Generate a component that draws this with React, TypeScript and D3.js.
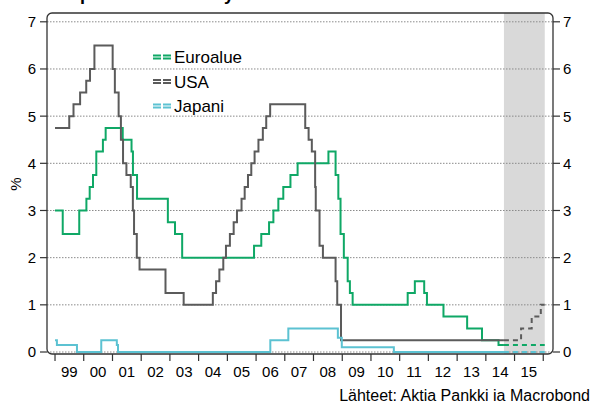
import React from 'react';
import * as d3 from 'd3';

// ECB, Fed and BoJ policy rates (change dates), %
const euroDates = ['1999-01-01', '1999-04-09', '1999-11-05', '2000-02-04', '2000-03-17', '2000-04-28', '2000-06-09', '2000-09-01', '2000-10-06', '2001-05-11', '2001-08-31', '2001-09-18', '2001-11-09', '2002-12-06', '2003-03-07', '2003-06-06', '2005-12-06', '2006-03-08', '2006-06-15', '2006-08-09', '2006-10-11', '2006-12-13', '2007-03-14', '2007-06-13', '2008-07-09', '2008-10-08', '2008-11-12', '2008-12-10', '2009-01-21', '2009-03-11', '2009-04-08', '2009-05-13', '2011-04-13', '2011-07-13', '2011-11-09', '2011-12-14', '2012-07-11', '2013-05-08', '2013-11-13', '2014-06-11', '2014-08-19'];
const euroValues = [3.0, 2.5, 3.0, 3.25, 3.5, 3.75, 4.25, 4.5, 4.75, 4.5, 4.25, 3.75, 3.25, 2.75, 2.5, 2.0, 2.25, 2.5, 2.75, 3.0, 3.25, 3.5, 3.75, 4.0, 4.25, 3.75, 3.25, 2.5, 2.0, 1.5, 1.25, 1.0, 1.25, 1.5, 1.25, 1.0, 0.75, 0.5, 0.25, 0.15, 0.15];

const usaDates = ['1999-01-01', '1999-07-01', '1999-08-24', '1999-11-16', '2000-02-02', '2000-03-21', '2000-05-16', '2001-01-03', '2001-01-31', '2001-03-20', '2001-04-18', '2001-05-15', '2001-06-27', '2001-08-21', '2001-09-17', '2001-10-02', '2001-11-06', '2001-12-11', '2002-11-06', '2003-06-25', '2004-06-30', '2004-08-10', '2004-09-21', '2004-11-10', '2004-12-14', '2005-02-02', '2005-03-22', '2005-05-03', '2005-06-30', '2005-08-09', '2005-09-20', '2005-11-01', '2005-12-13', '2006-01-31', '2006-03-28', '2006-05-10', '2006-06-29', '2007-09-18', '2007-10-31', '2007-12-11', '2008-01-22', '2008-01-30', '2008-03-18', '2008-04-30', '2008-10-08', '2008-10-29', '2008-12-16', '2014-08-19'];
const usaValues = [4.75, 5.0, 5.25, 5.5, 5.75, 6.0, 6.5, 6.0, 5.5, 5.0, 4.5, 4.0, 3.75, 3.5, 3.0, 2.5, 2.0, 1.75, 1.25, 1.0, 1.25, 1.5, 1.75, 2.0, 2.25, 2.5, 2.75, 3.0, 3.25, 3.5, 3.75, 4.0, 4.25, 4.5, 4.75, 5.0, 5.25, 4.75, 4.5, 4.25, 3.5, 3.0, 2.25, 2.0, 1.5, 1.0, 0.25, 0.25];

const japanDates = ['1999-01-01', '1999-01-25', '1999-10-07', '2000-08-11', '2001-02-25', '2001-03-12', '2006-07-01', '2007-02-15', '2008-11-06', '2008-12-26', '2010-10-19', '2014-08-19'];
const japanValues = [0.25, 0.15, 0.0, 0.25, 0.15, 0.0, 0.25, 0.5, 0.3, 0.1, 0.0, 0.0];

// forecasts (dashed)
const euroFcDates = ['2014-08-19', '2016-01-20'];
const euroFcValues = [0.15, 0.15];
const usaFcDates = ['2014-08-19', '2015-03-25', '2015-08-07', '2015-12-01', '2016-01-20'];
const usaFcValues = [0.25, 0.5, 0.75, 1.0, 1.0];
const japanFcDates = ['2014-08-19', '2016-01-20'];
const japanFcValues = [0.0, 0.0];

const forecastStart = '2014-08-19';
const forecastEnd = '2016-01-20';
const yTicks = [0, 1, 2, 3, 4, 5, 6, 7];

const colors = { euro: '#0fa866', usa: '#5b5b5b', japan: '#5cc2d2' };
const font = 'Liberation Sans, Arial, sans-serif';

const parse = d3.timeParse('%Y-%m-%d');
const zip = (ds: string[], vs: number[]) => ds.map((d, i) => ({ date: parse(d) as Date, value: vs[i] }));

export default function App() {
  const width = 600, height = 403;
  const left = 47, right = 553, top = 13, bottom = 354;

  const x = d3.scaleTime()
    .domain([parse('1998-09-21') as Date, parse('2016-05-04') as Date])
    .range([left, right]);
  const y = d3.scaleLinear().domain([0, 7]).range([352, 21.8]);

  const line = d3.line<{ date: Date; value: number }>()
    .x(d => x(d.date))
    .y(d => y(d.value))
    .curve(d3.curveStepAfter);

  const series = [
    { key: 'euro', actual: zip(euroDates, euroValues), fc: zip(euroFcDates, euroFcValues) },
    { key: 'usa', actual: zip(usaDates, usaValues), fc: zip(usaFcDates, usaFcValues) },
    { key: 'japan', actual: zip(japanDates, japanValues), fc: zip(japanFcDates, japanFcValues) },
  ];

  const yearTicks = d3.timeYear.range(new Date(1999, 0, 1), new Date(2016, 0, 2));
  const yearLabels = d3.timeYear.range(new Date(1999, 0, 1), new Date(2016, 0, 1));

  const legend = [
    { key: 'euro', label: 'Euroalue' },
    { key: 'usa', label: 'USA' },
    { key: 'japan', label: 'Japani' },
  ];

  return (
    <svg width={width} height={height} style={{ position: 'absolute', left: 0, top: 0, fontFamily: font }}>
      <rect width={width} height={height} fill="#fff" />
      {/* title, mostly cropped off the top */}
      <text x={16} y={0} fontSize={18} fontWeight="bold" fill="#000">Keskuspankkien korot nyt sekä ennuste</text>

      {/* forecast shading */}
      <rect x={x(parse(forecastStart) as Date)} y={top} width={x(parse(forecastEnd) as Date) - x(parse(forecastStart) as Date)} height={bottom - top} fill="#d9d9d9" />

      {/* gridlines */}
      {yTicks.map(t => (
        <line key={t} x1={left} x2={right} y1={y(t)} y2={y(t)} stroke="#8a8a8a" strokeWidth={1} strokeDasharray="1.5,1.5" />
      ))}

      {/* series */}
      {series.map(s => (
        <g key={s.key}>
          <path d={line(s.actual) || ''} fill="none" stroke={colors[s.key]} strokeWidth={2} />
          <path d={line(s.fc) || ''} fill="none" stroke={colors[s.key]} strokeWidth={2} strokeDasharray="5,4" />
        </g>
      ))}

      {/* frame */}
      <rect x={left} y={top} width={right - left} height={bottom - top} rx={5} fill="none" stroke="#333" strokeWidth={1.3} />

      {/* y ticks both sides */}
      {yTicks.map(t => (
        <g key={'yt' + t} fontSize={15} fill="#000">
          <line x1={40} x2={left} y1={y(t)} y2={y(t)} stroke="#333" strokeWidth={1.2} />
          <line x1={right} x2={560} y1={y(t)} y2={y(t)} stroke="#333" strokeWidth={1.2} />
          <text x={36} y={y(t)} dy="0.36em" textAnchor="end">{t}</text>
          <text x={563} y={y(t)} dy="0.36em" textAnchor="start">{t}</text>
        </g>
      ))}
      <text transform="translate(21,184) rotate(-90)" textAnchor="middle" fontSize={15}>%</text>

      {/* x ticks */}
      {yearTicks.map(d => (
        <line key={'xt' + d.getFullYear()} x1={x(d)} x2={x(d)} y1={bottom} y2={361} stroke="#333" strokeWidth={1.2} />
      ))}
      {yearLabels.map(d => (
        <text key={'xl' + d.getFullYear()} x={x(new Date(d.getFullYear(), 6, 2))} y={377} textAnchor="middle" fontSize={15}>
          {d3.timeFormat('%y')(d)}
        </text>
      ))}

      {/* legend */}
      {legend.map((l, i) => {
        const cy = 57 + i * 24.5;
        return (
          <g key={l.key}>
            <line x1={153} x2={171} y1={cy - 1.5} y2={cy - 1.5} stroke={colors[l.key]} strokeWidth={2} strokeDasharray="8,2" />
            <line x1={153} x2={171} y1={cy + 1.5} y2={cy + 1.5} stroke={colors[l.key]} strokeWidth={2} strokeDasharray="8,2" />
            <text x={174} y={cy + 6} fontSize={17} fill="#000">{l.label}</text>
          </g>
        );
      })}

      <text x={590} y={401} textAnchor="end" fontSize={16} fill="#000">Lähteet: Aktia Pankki ia Macrobond</text>
    </svg>
  );
}
